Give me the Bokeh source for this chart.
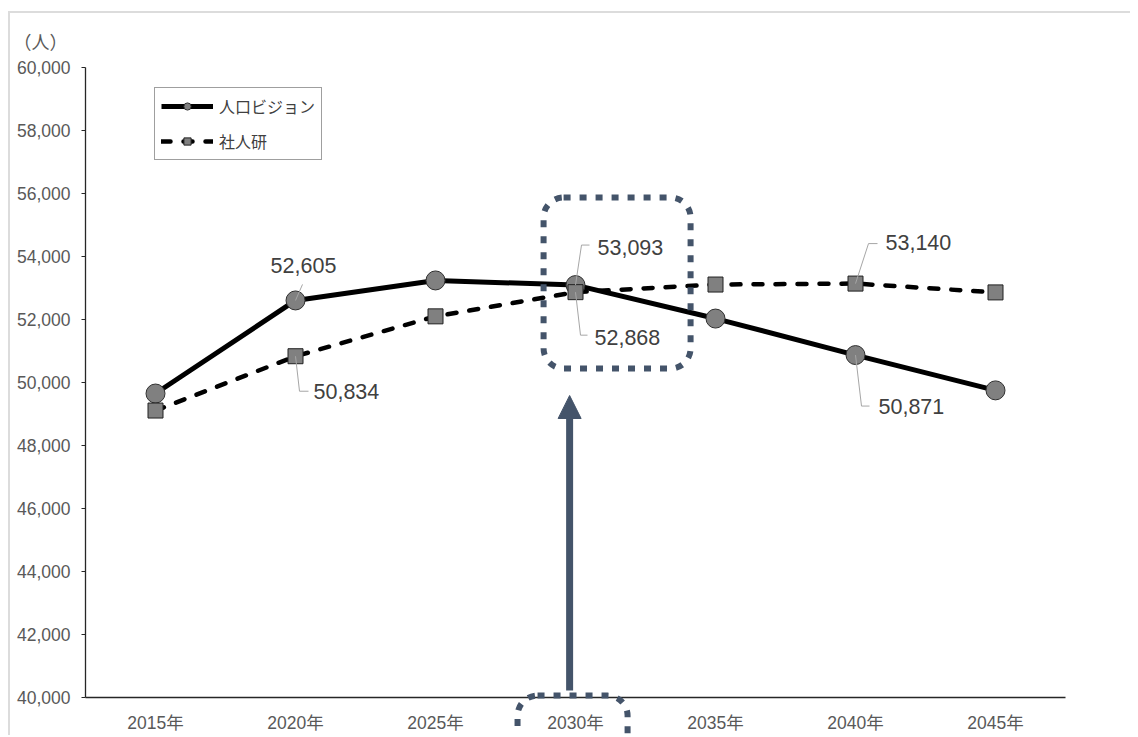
from bokeh.plotting import figure
from bokeh.models import (Range1d, FixedTicker, NumeralTickFormatter, Legend, LegendItem,
                          Label, BoxAnnotation, Arrow, NormalHead)
from bokeh.embed import file_html
from bokeh.resources import INLINE

# ---------------- data ----------------
years = [2015, 2020, 2025, 2030, 2035, 2040, 2045]
year_labels = ["2015年", "2020年", "2025年", "2030年", "2035年", "2040年", "2045年"]
vision = [49650, 52605, 53240, 53093, 52030, 50871, 49750]   # 人口ビジョン
ipss = [49110, 50834, 52100, 52868, 53110, 53140, 52860]     # 社人研
series_names = ["人口ビジョン", "社人研"]
y_ticks = [40000, 42000, 44000, 46000, 48000, 50000, 52000, 54000, 56000, 58000, 60000]
unit_label = "（人）"

# ---------------- layout / styles ----------------
NAVY = "#44546a"
TXT = "#595959"
NUM_FONT = "'Liberation Sans', Arial, 'Noto Sans CJK JP', sans-serif"
LBL_FONT = "'Liberation Sans Narrow', 'Arial Narrow', 'Liberation Sans', sans-serif"
CJK_FONT = "'Noto Sans CJK JP', sans-serif"

CANVAS_W, CANVAS_H = 1120, 722
AX_LEFT_PX, AX_TOP_PX = 75, 54          # plot-area corner inside the canvas
PLOT_W_PX, PLOT_H_PX = 980, 630         # plot-area size

XA0, XA1 = years[0] - 2.5, years[-1] + 2.5   # axis extent (category padding)
YA0, YA1 = y_ticks[0], y_ticks[-1]
PX_PER_X = PLOT_W_PX / (XA1 - XA0)
PX_PER_Y = PLOT_H_PX / (YA1 - YA0)

X0 = XA0 - AX_LEFT_PX / PX_PER_X
X1 = X0 + CANVAS_W / PX_PER_X
Y1 = YA1 + AX_TOP_PX / PX_PER_Y
Y0 = Y1 - CANVAS_H / PX_PER_Y


def dx(px):
    return px / PX_PER_X


def dy(px):
    return px / PX_PER_Y


p = figure(frame_width=CANVAS_W, frame_height=CANVAS_H,
           x_range=Range1d(X0, X1), y_range=Range1d(Y0, Y1),
           output_backend="svg", toolbar_location=None,
           min_border=0)
p.margin = (11, 0, 0, 8)
p.styles = {"border-top": "2px solid #dcdcdc", "border-left": "2px solid #dcdcdc"}
p.outline_line_color = None
p.background_fill_color = "white"
p.border_fill_color = "white"
p.xgrid.visible = False
p.ygrid.visible = False

# axes (drawn at the plot-area edges)
p.xaxis.fixed_location = YA0
p.xaxis.bounds = (XA0, XA1)
p.xaxis.ticker = FixedTicker(ticks=years)
p.xaxis.major_label_overrides = {y: lab for y, lab in zip(years, year_labels)}
p.xaxis.major_tick_line_color = None
p.xaxis.minor_tick_line_color = None
p.xaxis.major_label_standoff = 9

p.yaxis.fixed_location = XA0
p.yaxis.bounds = (YA0, YA1)
p.yaxis.ticker = FixedTicker(ticks=y_ticks)
p.yaxis.formatter = NumeralTickFormatter(format="0,0")
p.yaxis.minor_tick_line_color = None
p.yaxis.major_tick_in = 0
p.yaxis.major_tick_out = 4
p.yaxis.major_tick_line_color = "#262626"
p.yaxis.major_label_standoff = 11

for ax in (p.xaxis[0], p.yaxis[0]):
    ax.axis_line_color = "#262626"
    ax.axis_line_width = 1.3
    ax.major_label_text_font = NUM_FONT
    ax.major_label_text_font_size = "17.5px"
    ax.major_label_text_color = TXT

# series
r_ipss_line = p.line(years, ipss, line_color="black", line_width=4.5,
                     line_dash="9 13", line_cap="round")
r_vis_line = p.line(years, vision, line_color="black", line_width=5)
r_vis_pts = p.scatter(years, vision, marker="circle", size=19,
                      fill_color="#808080", line_color="#303030", line_width=1)
r_ipss_pts = p.scatter(years, ipss, marker="square", size=15,
                       fill_color="#808080", line_color="#202020", line_width=1)

# data labels with leader lines (index, series, text offset px, align, leader path px)
callouts = [
    (1, vision, (8, 35), "center", [(0, 0), (7, 16)]),
    (1, ipss, (18, -35), "left", [(0, 0), (4, -35), (13, -35)]),
    (3, vision, (22, 38), "left", [(0, 0), (6, 40), (14, 40)]),
    (3, ipss, (19, -45), "left", [(0, 0), (5, -43), (12, -43)]),
    (5, vision, (23, -51), "left", [(0, 0), (6, -51), (14, -51)]),
    (5, ipss, (30, 41), "left", [(0, 0), (13, 40), (22, 40)]),
]
xs_l, ys_l = [], []
for i, ser, (ox, oy), align, path in callouts:
    xv, yv = years[i], ser[i]
    xs_l.append([xv + dx(a) for a, b in path])
    ys_l.append([yv + dy(b) for a, b in path])
    p.add_layout(Label(x=xv, y=yv, x_offset=ox, y_offset=oy, text=f"{yv:,}",
                       text_align=align, text_baseline="middle",
                       text_font=LBL_FONT, text_font_size="21.5px", text_color="#404040"))
p.multi_line(xs_l, ys_l, line_color="#a6a6a6", line_width=1)

# unit label
p.add_layout(Label(x=XA0 + dx(-45), y=YA1 + dy(27), text=unit_label, text_align="center",
                   text_baseline="middle", text_font=CJK_FONT, text_font_size="18px",
                   text_color=TXT))

# legend
legend = Legend(items=[LegendItem(label=series_names[0], renderers=[r_vis_line, r_vis_pts]),
                       LegendItem(label=series_names[1], renderers=[r_ipss_line, r_ipss_pts])],
                location=(AX_LEFT_PX + 69, CANVAS_H - AX_TOP_PX - 27 - 66),
                orientation="vertical",
                border_line_color="#404040", border_line_width=1,
                background_fill_color="white", background_fill_alpha=1,
                padding=6, spacing=11, glyph_width=52, glyph_height=18, label_height=18,
                label_standoff=6, margin=0,
                label_text_font=CJK_FONT, label_text_font_size="16px",
                label_text_color="#404040")
p.add_layout(legend)

# highlight boxes and arrow
p.add_layout(BoxAnnotation(left=2028.86, right=2034.11, top=55873, bottom=50444,
                           fill_color=None, fill_alpha=0, line_color=NAVY, line_alpha=1,
                           line_width=6, line_dash="7 9", border_radius=20))
p.add_layout(BoxAnnotation(left=2027.93, right=2031.86, top=40060, bottom=37000,
                           fill_color=None, fill_alpha=0, line_color=NAVY, line_alpha=1,
                           line_width=6, line_dash="7 9", border_radius=20))
p.add_layout(Arrow(end=NormalHead(size=23, fill_color=NAVY, line_color=NAVY),
                   x_start=2029.79, y_start=40222, x_end=2029.79, y_end=49587,
                   line_color=NAVY, line_width=7))

open("out.html", "w").write(file_html(p, INLINE))
